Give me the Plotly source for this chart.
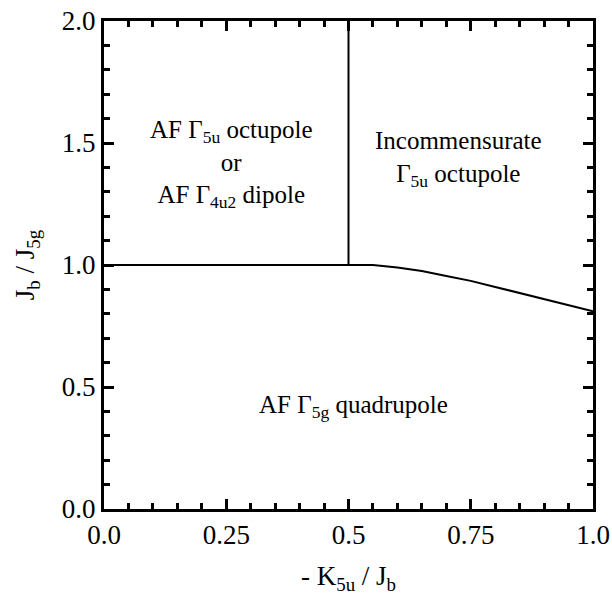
import plotly.graph_objects as go

# Phase boundary: horizontal then bending down
bound_x = [0.0, 0.50, 0.55, 0.60, 0.65, 0.70, 0.75, 0.80, 0.85, 0.90, 0.95, 1.0]
bound_y = [1.0, 1.0, 1.0, 0.99, 0.975, 0.955, 0.935, 0.91, 0.885, 0.86, 0.835, 0.81]
# Vertical boundary
vert_x = [0.5, 0.5]
vert_y = [1.0, 2.0]

labels = [
    ("AF Γ<sub>5u</sub> octupole<br>or<br>AF Γ<sub>4u2</sub> dipole", 0.26, 1.415),
    ("Incommensurate<br>Γ<sub>5u</sub> octupole", 0.725, 1.435),
    ("AF Γ<sub>5g</sub> quadrupole", 0.51, 0.42),
]

FONT = "Liberation Serif"

fig = go.Figure()
fig.add_trace(go.Scatter(x=bound_x, y=bound_y, mode="lines",
                         line=dict(color="black", width=2), showlegend=False))
fig.add_trace(go.Scatter(x=vert_x, y=vert_y, mode="lines",
                         line=dict(color="black", width=2), showlegend=False))

for txt, x, y in labels:
    fig.add_annotation(x=x, y=y, text=txt, showarrow=False,
                       font=dict(family=FONT, size=25, color="black"),
                       align="center")

axis_common = dict(
    showline=True, linewidth=3, linecolor="black", mirror="ticks",
    ticks="inside", ticklen=10, tickwidth=3, tickcolor="black",
    showgrid=False, zeroline=False, automargin=False,
    tickfont=dict(family=FONT, size=27, color="black"),
)

fig.update_xaxes(range=[0, 1], tickvals=[0, 0.25, 0.5, 0.75, 1.0],
                 ticktext=["0.0", "0.25", "0.5", "0.75", "1.0"],
                 minor=dict(ticks="inside", ticklen=6, tickwidth=3, tickcolor="black", dtick=0.05),
                 title=dict(text="- K<sub>5u</sub> / J<sub>b</sub>",
                            font=dict(family=FONT, size=27, color="black"), standoff=18),
                 **axis_common)
fig.update_yaxes(range=[0, 2], tickvals=[0, 0.5, 1.0, 1.5, 2.0],
                 ticktext=["0.0", "0.5", "1.0", "1.5", "2.0"],
                 minor=dict(ticks="inside", ticklen=6, tickwidth=3, tickcolor="black", dtick=0.1),
                 title=dict(text="J<sub>b</sub> / J<sub>5g</sub>",
                            font=dict(family=FONT, size=27, color="black"), standoff=20),
                 **axis_common)

fig.update_layout(width=612, height=595, plot_bgcolor="white", paper_bgcolor="white",
                  font=dict(family=FONT, color="black"),
                  margin=dict(l=104, r=19, t=21, b=86))

fig.write_html("out.html")
